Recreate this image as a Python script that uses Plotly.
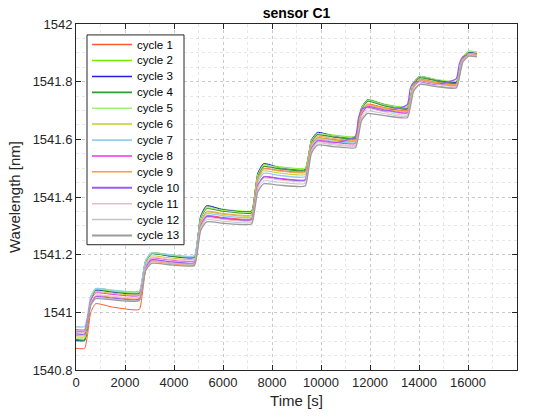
import plotly.graph_objects as go

time_s = [0, 350, 470, 600, 800, 1500, 2580, 2700, 2840, 3080, 3800, 4830, 4950, 5090, 5330, 6000,
          7160, 7280, 7420, 7660, 8300, 9350, 9470, 9610, 9850, 10500, 11400, 11520, 11660, 11900, 12600,
          13520, 13640, 13780, 14020, 14700, 15520, 15640, 15780, 16020, 16360]

cycle_1 = [1540.875, 1540.875, 1540.922, 1540.999, 1541.030, 1541.018, 1541.010, 1541.060, 1541.144, 1541.178, 1541.172, 1541.168, 1541.218, 1541.302, 1541.335, 1541.329, 1541.325, 1541.377, 1541.463, 1541.498, 1541.492, 1541.488, 1541.523, 1541.582, 1541.605, 1541.599, 1541.595, 1541.633, 1541.697, 1541.722, 1541.710, 1541.700, 1541.732, 1541.786, 1541.808, 1541.798, 1541.792, 1541.822, 1541.872, 1541.892, 1541.888]
cycle_2 = [1540.900, 1540.900, 1540.955, 1541.046, 1541.082, 1541.076, 1541.072, 1541.113, 1541.180, 1541.207, 1541.200, 1541.195, 1541.246, 1541.332, 1541.366, 1541.358, 1541.352, 1541.400, 1541.480, 1541.512, 1541.505, 1541.500, 1541.537, 1541.598, 1541.622, 1541.615, 1541.610, 1541.648, 1541.712, 1541.738, 1541.722, 1541.712, 1541.744, 1541.797, 1541.818, 1541.807, 1541.800, 1541.832, 1541.885, 1541.906, 1541.903]
cycle_3 = [1540.903, 1540.903, 1540.955, 1541.041, 1541.076, 1541.070, 1541.065, 1541.107, 1541.176, 1541.204, 1541.195, 1541.190, 1541.244, 1541.334, 1541.370, 1541.356, 1541.350, 1541.400, 1541.483, 1541.516, 1541.502, 1541.495, 1541.534, 1541.598, 1541.624, 1541.612, 1541.605, 1541.644, 1541.710, 1541.736, 1541.720, 1541.708, 1541.741, 1541.796, 1541.818, 1541.806, 1541.798, 1541.829, 1541.880, 1541.901, 1541.898]
cycle_4 = [1540.905, 1540.905, 1540.957, 1541.043, 1541.078, 1541.072, 1541.068, 1541.109, 1541.176, 1541.203, 1541.197, 1541.192, 1541.242, 1541.326, 1541.360, 1541.351, 1541.345, 1541.393, 1541.474, 1541.506, 1541.498, 1541.492, 1541.529, 1541.591, 1541.616, 1541.608, 1541.602, 1541.641, 1541.706, 1541.732, 1541.716, 1541.705, 1541.738, 1541.792, 1541.814, 1541.803, 1541.795, 1541.826, 1541.878, 1541.899, 1541.896]
cycle_5 = [1540.910, 1540.910, 1540.961, 1541.046, 1541.080, 1541.074, 1541.070, 1541.111, 1541.178, 1541.205, 1541.199, 1541.194, 1541.244, 1541.328, 1541.362, 1541.354, 1541.348, 1541.397, 1541.478, 1541.510, 1541.503, 1541.498, 1541.535, 1541.596, 1541.620, 1541.613, 1541.608, 1541.646, 1541.710, 1541.735, 1541.720, 1541.710, 1541.742, 1541.796, 1541.818, 1541.808, 1541.802, 1541.833, 1541.884, 1541.905, 1541.902]
cycle_6 = [1540.915, 1540.915, 1540.962, 1541.040, 1541.071, 1541.066, 1541.062, 1541.102, 1541.168, 1541.195, 1541.189, 1541.185, 1541.234, 1541.315, 1541.347, 1541.340, 1541.335, 1541.382, 1541.459, 1541.490, 1541.483, 1541.478, 1541.516, 1541.579, 1541.604, 1541.597, 1541.592, 1541.630, 1541.693, 1541.718, 1541.705, 1541.695, 1541.728, 1541.784, 1541.806, 1541.796, 1541.790, 1541.822, 1541.876, 1541.898, 1541.895]
cycle_7 = [1540.950, 1540.950, 1540.990, 1541.056, 1541.082, 1541.077, 1541.073, 1541.113, 1541.179, 1541.206, 1541.200, 1541.196, 1541.240, 1541.313, 1541.342, 1541.335, 1541.330, 1541.376, 1541.452, 1541.482, 1541.475, 1541.470, 1541.509, 1541.574, 1541.600, 1541.593, 1541.588, 1541.626, 1541.688, 1541.713, 1541.700, 1541.690, 1541.724, 1541.780, 1541.803, 1541.794, 1541.788, 1541.820, 1541.874, 1541.896, 1541.893]
cycle_8 = [1540.940, 1540.940, 1540.978, 1541.042, 1541.067, 1541.062, 1541.058, 1541.097, 1541.162, 1541.188, 1541.182, 1541.178, 1541.225, 1541.302, 1541.333, 1541.327, 1541.322, 1541.367, 1541.441, 1541.471, 1541.465, 1541.460, 1541.501, 1541.569, 1541.596, 1541.590, 1541.585, 1541.624, 1541.688, 1541.714, 1541.702, 1541.692, 1541.725, 1541.779, 1541.801, 1541.792, 1541.786, 1541.819, 1541.873, 1541.895, 1541.892]
cycle_9 = [1540.920, 1540.920, 1540.961, 1541.030, 1541.057, 1541.052, 1541.048, 1541.086, 1541.150, 1541.175, 1541.169, 1541.165, 1541.221, 1541.313, 1541.350, 1541.343, 1541.338, 1541.386, 1541.465, 1541.497, 1541.490, 1541.485, 1541.523, 1541.585, 1541.610, 1541.603, 1541.598, 1541.635, 1541.696, 1541.720, 1541.708, 1541.698, 1541.730, 1541.784, 1541.806, 1541.796, 1541.790, 1541.822, 1541.876, 1541.897, 1541.894]
cycle_10 = [1540.925, 1540.925, 1540.964, 1541.028, 1541.054, 1541.049, 1541.045, 1541.086, 1541.155, 1541.182, 1541.176, 1541.172, 1541.220, 1541.299, 1541.331, 1541.325, 1541.320, 1541.365, 1541.439, 1541.469, 1541.463, 1541.458, 1541.499, 1541.566, 1541.593, 1541.587, 1541.610, 1541.670, 1541.705, 1541.712, 1541.698, 1541.720, 1541.775, 1541.797, 1541.800, 1541.790, 1541.810, 1541.860, 1541.886, 1541.892, 1541.890]
cycle_11 = [1540.930, 1540.930, 1540.969, 1541.034, 1541.060, 1541.056, 1541.052, 1541.093, 1541.162, 1541.190, 1541.184, 1541.180, 1541.224, 1541.298, 1541.328, 1541.322, 1541.318, 1541.362, 1541.436, 1541.465, 1541.459, 1541.455, 1541.496, 1541.564, 1541.591, 1541.585, 1541.580, 1541.618, 1541.681, 1541.706, 1541.695, 1541.685, 1541.720, 1541.777, 1541.800, 1541.791, 1541.785, 1541.818, 1541.872, 1541.894, 1541.891]
cycle_12 = [1540.932, 1540.932, 1540.967, 1541.026, 1541.050, 1541.046, 1541.042, 1541.083, 1541.150, 1541.177, 1541.172, 1541.168, 1541.214, 1541.290, 1541.321, 1541.316, 1541.312, 1541.355, 1541.427, 1541.456, 1541.451, 1541.447, 1541.489, 1541.559, 1541.587, 1541.581, 1541.577, 1541.613, 1541.674, 1541.698, 1541.689, 1541.680, 1541.714, 1541.770, 1541.793, 1541.786, 1541.780, 1541.813, 1541.869, 1541.891, 1541.889]
cycle_13 = [1540.935, 1540.935, 1540.969, 1541.025, 1541.047, 1541.043, 1541.040, 1541.079, 1541.144, 1541.170, 1541.165, 1541.162, 1541.208, 1541.284, 1541.314, 1541.309, 1541.306, 1541.348, 1541.418, 1541.446, 1541.441, 1541.438, 1541.481, 1541.552, 1541.580, 1541.575, 1541.571, 1541.607, 1541.666, 1541.690, 1541.682, 1541.675, 1541.710, 1541.767, 1541.790, 1541.783, 1541.778, 1541.811, 1541.866, 1541.888, 1541.886]

series_names = ["cycle 1", "cycle 2", "cycle 3", "cycle 4", "cycle 5", "cycle 6", "cycle 7",
                "cycle 8", "cycle 9", "cycle 10", "cycle 11", "cycle 12", "cycle 13"]
series_values = [cycle_1, cycle_2, cycle_3, cycle_4, cycle_5, cycle_6, cycle_7,
                 cycle_8, cycle_9, cycle_10, cycle_11, cycle_12, cycle_13]
series_colors = ["#FF5A2A", "#6EF000", "#2020D8", "#2E9E2E", "#A8F070", "#C8C820", "#8ED0F0",
                 "#F030F0", "#FF9A40", "#9A5CF5", "#F4B8C4", "#C4C4C4", "#9C9C9C"]
series_widths = [1, 1, 1, 1.3, 1, 1, 1.3, 1, 1, 1.3, 1, 1, 1.3]

x_ticks = [0, 2000, 4000, 6000, 8000, 10000, 12000, 14000, 16000, 18000]
x_tick_labels = ["0", "2000", "4000", "6000", "8000", "10000", "12000", "14000", "16000", "18000"]
y_ticks = [1540.8, 1541.0, 1541.2, 1541.4, 1541.6, 1541.8, 1542.0]
y_tick_labels = ["1540.8", "1541", "1541.2", "1541.4", "1541.6", "1541.8", "1542"]

FONT = "Liberation Sans, Arial, sans-serif"
AX = "#262626"

# plot-area geometry in pixels (used for the MATLAB-style legend box)
W, H = 535, 418
ML, MR, MT, MB = 76, 18, 24, 46
PW, PH = W - ML - MR, H - MT - MB


def px(x):
    return (x - ML) / PW


def py(y):
    return (H - MB - y) / PH


fig = go.Figure()
for name, vals, col, w in zip(series_names, series_values, series_colors, series_widths):
    fig.add_trace(go.Scatter(x=time_s, y=vals, mode="lines", name=name,
                             line=dict(color=col, width=w, shape="spline", smoothing=0.5),
                             showlegend=False))

# MATLAB-style legend (compact row spacing)
shapes = [dict(type="rect", xref="paper", yref="paper",
               x0=px(87), x1=px(184), y0=py(246), y1=py(35),
               fillcolor="white", line=dict(color=AX, width=1), layer="above")]
annotations = []
for i, (name, col, w) in enumerate(zip(series_names, series_colors, series_widths)):
    yc = 44.7 + 16.0 * i
    shapes.append(dict(type="line", xref="paper", yref="paper",
                       x0=px(92), x1=px(132), y0=py(yc), y1=py(yc),
                       line=dict(color=col, width=w + 0.5), layer="above"))
    annotations.append(dict(text=name, xref="paper", yref="paper", x=px(135), y=py(yc),
                            xanchor="left", yanchor="middle", showarrow=False,
                            font=dict(size=11.5, color="#000000", family=FONT)))

grid_major = "rgba(38,38,38,0.15)"
grid_minor = "rgba(38,38,38,0.11)"

fig.update_layout(
    width=W, height=H,
    margin=dict(l=ML, r=MR, t=MT, b=MB),
    paper_bgcolor="white", plot_bgcolor="white",
    font=dict(family=FONT, color=AX, size=12),
    title=dict(text="<b>sensor C1</b>", x=(ML + W - MR) / 2 / W, xanchor="center",
               y=1 - 13 / H, yanchor="middle", yref="container",
               font=dict(size=14, color="#000000", family=FONT)),
    showlegend=False,
    shapes=shapes,
    annotations=annotations,
    xaxis=dict(range=[0, 18000], tickvals=x_ticks, ticktext=x_tick_labels,
               ticks="inside", ticklen=5, tickcolor=AX,
               showline=True, linecolor=AX, linewidth=1, mirror="ticks",
               showgrid=True, gridcolor=grid_major, griddash="dot", gridwidth=1,
               zeroline=False, tickfont=dict(size=13, color=AX),
               title=dict(text="Time [s]", font=dict(size=15, color=AX), standoff=6),
               minor=dict(dtick=1000, showgrid=True, gridcolor=grid_minor, griddash="dot", ticks="")),
    yaxis=dict(range=[1540.8, 1542.0], tickvals=y_ticks, ticktext=y_tick_labels,
               ticks="inside", ticklen=5, tickcolor=AX,
               showline=True, linecolor=AX, linewidth=1, mirror="ticks",
               showgrid=True, gridcolor=grid_major, griddash="dot", gridwidth=1,
               zeroline=False, tickfont=dict(size=13, color=AX),
               title=dict(text="Wavelength [nm]", font=dict(size=15, color=AX), standoff=8),
               minor=dict(dtick=0.05, tick0=1540.8, showgrid=True, gridcolor=grid_minor, griddash="dot", ticks="")),
)

fig.write_html("out.html")
